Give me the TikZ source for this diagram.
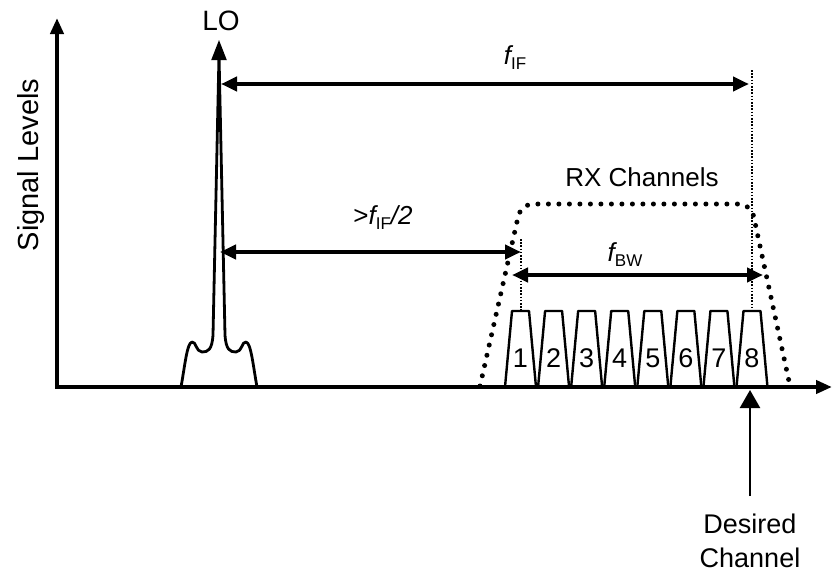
\documentclass[tikz,border=0pt]{standalone}
\usepackage{fontspec}
\setmainfont{Liberation Sans}
\usetikzlibrary{arrows.meta,positioning}
\newcommand\lowsub[1]{\raisebox{-5pt}{\fontsize{17}{17}\selectfont #1}}

\begin{document}
\begin{tikzpicture}[
  x=1pt, y=-1pt,
  lbl/.style={font=\fontsize{26}{30}\selectfont, inner sep=0pt},
  axis/.style={{Triangle[length=16pt, width=13pt]}-{Triangle[length=16pt, width=13pt]}, line width=4.5pt},
  span/.style={{Triangle[length=16pt, width=14pt]}-{Triangle[length=16pt, width=14pt]}, line width=4.5pt},
  pointer/.style={-{Triangle[length=18pt, width=20pt]}, line width=2.4pt},
  guide/.style={line width=1.6pt, dash pattern=on 1.6pt off 1.6pt},
  envelope/.style={line width=5pt, line cap=round, dash pattern=on 0pt off 10.5pt, rounded corners=12pt},
  chan/.style={line width=2.4pt, line join=round}
]
\useasboundingbox (0,0) rectangle (833,573);

% named points
\coordinate (origin) at (57,387);
\coordinate (ytop) at (57,18);
\coordinate (xend) at (832,387);
\coordinate (lobase) at (219,80);
\coordinate (lotip) at (219,40);
\coordinate (ifstart) at (221,84);
\coordinate (ifend) at (749,84);
\coordinate (halfstart) at (220,252);
\coordinate (halfend) at (521,252);
\coordinate (bwstart) at (512,275);
\coordinate (bwend) at (763,275);
\coordinate (guidetop) at (752,70);
\coordinate (guidebot) at (752,311);
\coordinate (halfguidetop) at (521,239);
\coordinate (halfguidebot) at (521,311);
\coordinate (desiredtail) at (750,496);
\coordinate (desiredtip) at (750,390);

% labels
\node[lbl, font=\fontsize{29}{33}\selectfont, rotate=90] (ylabel) at (31,165) {Signal Levels};
\node[lbl, font=\fontsize{28}{32}\selectfont] (lo) at (221,21) {LO};
\node[lbl] (iflabel) at (515,58) {{\itshape f}\lowsub{IF}};
\node[lbl] (halflabel) at (383,218) {>{\itshape f}\lowsub{IF}{\itshape /2}};
\node[lbl] (bwlabel) at (625,255) {{\itshape f}\lowsub{BW}};
\node[lbl] (rxlabel) at (642,177) {RX Channels};
\node[lbl, font=\fontsize{27}{34}\selectfont, align=center] (desired) at (750,541) {Desired\\Channel};

% LO spectrum
\draw[line width=2.8pt, line join=round] (181,387) .. controls (185,365) and (187,343) .. (192,342)
  .. controls (196,341) and (196,352) .. (202,352) .. controls (208,352) and (212,350) .. (213,335)
  -- (219,55) -- (225,335) .. controls (226,350) and (230,352) .. (236,352)
  .. controls (242,352) and (242,341) .. (246,342) .. controls (251,343) and (253,365) .. (257,387);
\draw[-{Triangle[length=20pt, width=15pt]}, line width=2pt] (lobase) -- (lotip);

% RX envelope and channels
\draw[envelope] (480,386) -- (521,204) -- (751,204) -- (790,386);
\foreach \i [evaluate=\i as \cx using 520.5+33.07*(\i-1)] in {1,...,8} {
  \draw[chan] ({\cx-15.5},387) -- ({\cx-8.5},311) -- ({\cx+8.5},311) -- ({\cx+15.5},387);
  \node[lbl, font=\fontsize{27}{30}\selectfont] (ch\i) at (\cx,358) {\i};
}

% guides and spans
\draw[guide] (guidetop) -- (guidebot);
\draw[guide] (halfguidetop) -- (halfguidebot);
\draw[span] (ifstart) -- (ifend);
\draw[span] (halfstart) -- (halfend);
\draw[span] (bwstart) -- (bwend);

% axes
\draw[axis] (ytop) -- (origin) -- (xend);
\draw[pointer] (desiredtail) -- (desiredtip);
\end{tikzpicture}
\end{document}
